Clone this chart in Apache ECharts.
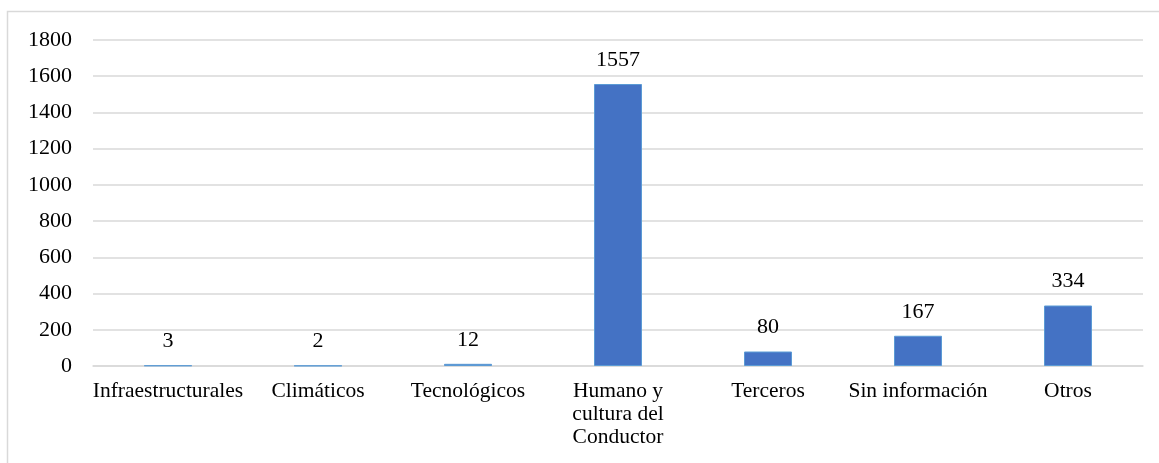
<!DOCTYPE html>
<html>
<head>
<meta charset="utf-8">
<script src="https://cdn.jsdelivr.net/npm/echarts@6/dist/echarts.min.js"></script>
<style>
  html, body { margin: 0; padding: 0; background: #fff; }
  #chart { width: 1159px; height: 463px; }
</style>
</head>
<body>
<div id="chart"></div>
<script>
// Causes of accidents: counts per category
const categories = [
  'Infraestructurales',
  'Climáticos',
  'Tecnológicos',
  'Humano y\ncultura del\nConductor',
  'Terceros',
  'Sin información',
  'Otros'
];
const counts = [3, 2, 12, 1557, 80, 167, 334];
const yTicks = { min: 0, max: 1800, interval: 200 };

const font = '"Liberation Serif", "Times New Roman", serif';
const chart = echarts.init(document.getElementById('chart'), null, { renderer: 'canvas' });

chart.setOption({
  animation: false,
  backgroundColor: '#ffffff',
  graphic: [{
    type: 'rect',
    shape: { x: 7.5, y: 11.5, width: 1200, height: 500 },
    style: { fill: 'none', stroke: '#d9d9d9', lineWidth: 1.5 },
    silent: true
  }],
  grid: { left: 93, right: 16, top: 40, bottom: 97, containLabel: false },
  xAxis: {
    type: 'category',
    data: categories,
    axisLine: { show: true, lineStyle: { color: '#d9d9d9', width: 1.5 } },
    axisTick: { show: false },
    axisLabel: {
      color: '#000',
      fontFamily: font,
      fontSize: 21.5,
      lineHeight: 23,
      margin: 14,
      interval: 0,
      align: 'center'
    }
  },
  yAxis: {
    type: 'value',
    min: yTicks.min,
    max: yTicks.max,
    interval: yTicks.interval,
    axisLine: { show: false },
    axisTick: { show: false },
    splitLine: { lineStyle: { color: '#d9d9d9', width: 1.5 } },
    axisLabel: {
      color: '#000',
      fontFamily: font,
      fontSize: 22,
      margin: 21,
      formatter: v => String(v)
    }
  },
  series: [{
    type: 'bar',
    data: counts,
    barWidth: 48,
    itemStyle: { color: '#4472C4', borderColor: '#5B9BD5', borderWidth: 1 },
    label: {
      show: true,
      position: 'top',
      distance: 13,
      color: '#000',
      fontFamily: font,
      fontSize: 22
    }
  }]
});
</script>
</body>
</html>
